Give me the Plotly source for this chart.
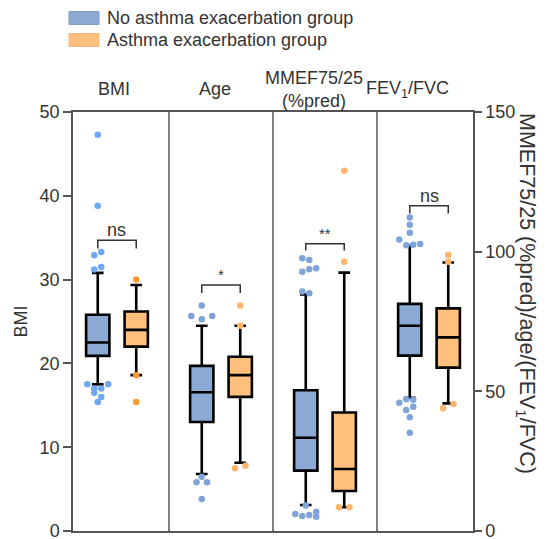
import plotly.graph_objects as go

# ---------------- data ----------------
panels = ["BMI", "Age", "MMEF75/25<br>(%pred)", "FEV<sub>1</sub>/FVC"]
panel_axis = ["y", "y", "y2", "y2"]

# No asthma exacerbation group: box statistics per panel
no_lower = [17.5, 6.8, 9.3, 47.7]
no_q1 = [20.9, 13.0, 21.6, 62.8]
no_median = [22.5, 16.55, 33.4, 73.5]
no_q3 = [25.8, 19.7, 50.4, 81.3]
no_upper = [30.8, 24.5, 84.7, 102.1]

# Asthma exacerbation group: box statistics per panel
ex_lower = [18.6, 8.15, 8.5, 45.7]
ex_q1 = [22.0, 16.0, 14.3, 58.5]
ex_median = [24.0, 18.6, 22.2, 69.3]
ex_q3 = [26.2, 20.8, 42.4, 79.7]
ex_upper = [29.35, 24.5, 92.5, 96.1]

# outlier values (and their swarm slot) per panel
no_out = [
    [47.3, 38.8, 33.3, 32.9, 31.5, 31.2, 17.5, 17.5, 17.0, 17.0, 16.5, 16.0, 15.4],
    [26.9, 25.66, 25.26, 25.66, 6.48, 5.81, 5.81, 3.82],
    [97.6, 97.0, 94.1, 93.7, 92.8, 85.7, 85.1, 9.1, 6.1, 5.4, 5.7, 6.9, 5.1, -0.6],
    [112.2, 109.6, 106.8, 104.4, 102.3, 102.5, 102.7, 45.9, 47.2, 47.0, 43.3, 44.5, 40.7, 35.2],
]
no_slot = [
    [0, 0, 1, -1, 1, -1, -3, 3, -1, 1, -1, 1, 0],
    [0, -3, 0, 3, 0, -1.5, 1.5, 0],
    [-1, 1, 3, 1, -1, -1, 1, 0, -3, -1, 1, 3, 3, 0],
    [0, 0, 0, -3, -1, 1, 3, -3, -1, 1, -1, 1, 0, 0],
]
ex_out = [
    [30.0, 18.6, 15.4],
    [26.9, 24.5, 7.8, 7.5],
    [129.0, 96.4, 8.5, 8.5],
    [98.8, 96.4, 43.9, 45.5],
]
ex_slot = [
    [0, 0, 0],
    [0, 0, 1.5, -1.5],
    [0, 0, -1.5, 1.5],
    [0, 0, -1.5, 1.5],
]

# significance brackets
sig_labels = ["ns", "*", "**", "ns"]
bracket_top = [34.7, 29.35, 102.8, 116.4]
bracket_drop = [1.0, 0.95, 2.4, 2.7]

legend_names = ["No asthma exacerbation group", "Asthma exacerbation group"]

# ---------------- style ----------------
BLUE_FILL = "#8BA9D3"
ORANGE_FILL = "#FFC07E"
blue_pts = ["#6FA7F2", "#7FA3D8", "#7FA4DA", "#7FA4DA"]
orange_pts = ["#FF9A33", "#FFB56B", "#FFB56B", "#FFB56B"]
AX = "#555555"
TXT = "#333333"
FONT = "Liberation Sans, Arial, sans-serif"
OFF = 0.185
BOXW = 0.224
SLOT = 0.0335

W, H = 546, 539
L, R, T, B = 73, 473, 112, 531


def px(x):
    return (x - L) / (R - L)


def py(y):
    return (B - y) / (B - T)


fig = go.Figure()

for i in range(4):
    c = i + 1
    ya = panel_axis[i]
    for off, lo, q1, md, q3, up, fill in [
        (-OFF, no_lower, no_q1, no_median, no_q3, no_upper, BLUE_FILL),
        (OFF, ex_lower, ex_q1, ex_median, ex_q3, ex_upper, ORANGE_FILL),
    ]:
        fig.add_trace(go.Box(
            x=[c + off], q1=[q1[i]], median=[md[i]], q3=[q3[i]],
            lowerfence=[lo[i]], upperfence=[up[i]],
            width=BOXW, whiskerwidth=0.5, fillcolor=fill,
            line=dict(color="black", width=2.6), boxpoints=False,
            orientation="v", yaxis=ya, showlegend=False, hoverinfo="skip",
        ))
    fig.add_trace(go.Scatter(
        x=[c - OFF + s * SLOT for s in no_slot[i]], y=no_out[i], mode="markers",
        marker=dict(size=6.5, color=blue_pts[i]), yaxis=ya, showlegend=False,
        cliponaxis=False, hoverinfo="skip",
    ))
    fig.add_trace(go.Scatter(
        x=[c + OFF + s * SLOT for s in ex_slot[i]], y=ex_out[i], mode="markers",
        marker=dict(size=6.5, color=orange_pts[i]), yaxis=ya, showlegend=False,
        cliponaxis=False, hoverinfo="skip",
    ))
    # bracket
    top, d = bracket_top[i], bracket_drop[i]
    fig.add_trace(go.Scatter(
        x=[c - OFF, c - OFF, c + OFF, c + OFF], y=[top - d, top, top, top - d],
        mode="lines", line=dict(color=TXT, width=1.5), yaxis=ya,
        showlegend=False, hoverinfo="skip",
    ))
    is_star = "*" in sig_labels[i]
    fig.add_annotation(
        x=c, y=top, xref="x", yref=ya, text=sig_labels[i], showarrow=False,
        xanchor="center", yanchor="bottom", yshift=(0 if is_star else -2),
        font=dict(size=15 if is_star else 18, color=TXT, family=FONT),
    )

# panel dividers
for xv in [1.5, 2.5, 3.5]:
    fig.add_shape(type="line", x0=xv, x1=xv, y0=0, y1=1, xref="x", yref="paper",
                  line=dict(color=AX, width=1.5))

# panel titles
title_px = [114.2, 214.7, 313.8, 407.8]
for i, t in enumerate(panels):
    fig.add_annotation(x=px(title_px[i]), y=py(89), xref="paper", yref="paper",
                       text=t, showarrow=False, xanchor="center", yanchor="middle",
                       font=dict(size=18, color=TXT, family=FONT))

# legend (drawn manually)
for k, (name, fill, line) in enumerate([(legend_names[0], BLUE_FILL, "#7F9DC9"),
                                        (legend_names[1], ORANGE_FILL, "#F5B676")]):
    yc = 18 + 22 * k
    fig.add_shape(type="rect", xref="paper", yref="paper",
                  x0=px(69), x1=px(99), y0=py(yc - 6.5), y1=py(yc + 6.5),
                  fillcolor=fill, line=dict(color=line, width=1))
    fig.add_annotation(x=px(105), y=py(yc), xref="paper", yref="paper", text=name,
                       showarrow=False, xanchor="left", yanchor="middle",
                       font=dict(size=18, color=TXT, family=FONT))

# axis titles
fig.add_annotation(x=px(20), y=py(321.5), xref="paper", yref="paper", text="BMI",
                   textangle=-90, showarrow=False, xanchor="center", yanchor="middle",
                   font=dict(size=18, color=TXT, family=FONT))
fig.add_annotation(x=px(526), y=py(293), xref="paper", yref="paper",
                   text="MMEF75/25 (%pred)/age/(FEV<sub>1</sub>/FVC)",
                   textangle=90, showarrow=False, xanchor="center", yanchor="middle",
                   font=dict(size=21.5, color=TXT, family=FONT))

fig.update_layout(
    width=W, height=H,
    margin=dict(l=L, r=W - R, t=T, b=H - B, autoexpand=False),
    plot_bgcolor="white", paper_bgcolor="white",
    boxmode="overlay",
    font=dict(family=FONT, size=18, color=TXT),
    xaxis=dict(range=[0.577, 4.423], showgrid=False, zeroline=False,
               showticklabels=False, ticks="", showline=True, mirror=True,
               linecolor=AX, linewidth=1.5, automargin=False),
    yaxis=dict(range=[0, 50], dtick=10, showgrid=False, zeroline=False,
               showline=True, linecolor=AX, linewidth=1.5, ticks="outside",
               ticklen=8, tickwidth=1.5, tickcolor=AX, ticklabeloverflow="allow",
               automargin=False,
               tickfont=dict(size=18, color=TXT, family=FONT)),
    yaxis2=dict(range=[0, 150], dtick=50, overlaying="y", side="right",
                showgrid=False, zeroline=False, showline=True, linecolor=AX,
                linewidth=1.5, ticks="outside", ticklen=7, tickwidth=1.5,
                tickcolor=AX, ticklabeloverflow="allow", automargin=False,
                tickfont=dict(size=18, color=TXT, family=FONT)),
)

fig.write_html("out.html")
